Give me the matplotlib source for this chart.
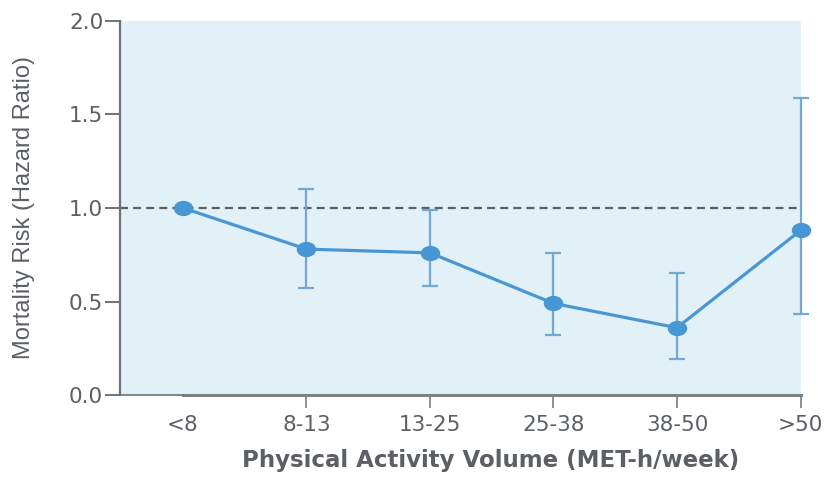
import numpy as np
import matplotlib
matplotlib.use("Agg")
import matplotlib.pyplot as plt
from matplotlib.path import Path

# Hazard ratios by weekly activity volume, with 95% CI
categories = ["<8", "8-13", "13-25", "25-38", "38-50", ">50"]
hazard = [1.00, 0.78, 0.76, 0.49, 0.36, 0.88]
ci_low = [1.00, 0.57, 0.585, 0.32, 0.195, 0.435]
ci_high = [1.00, 1.10, 0.99, 0.76, 0.655, 1.59]
yticks = [0.0, 0.5, 1.0, 1.5, 2.0]

plt.rcParams["font.family"] = ["DejaVu Sans"]

grey = "#5c6064"
axis_grey = "#6e7377"
blue = "#4897d4"
err_blue = "#72a8d3"

# slightly wide oval marker
circ = Path.unit_circle()
oval = Path(circ.vertices * np.array([1.3, 1.0]), circ.codes)

fig = plt.figure(figsize=(8.27, 4.83), dpi=100)
ax = fig.add_axes([0.145, 0.182, 0.823, 0.775])
ax.set_facecolor("#e2f1f8")

x = np.arange(len(categories))
hz = np.array(hazard)
lo = hz - np.array(ci_low)
hi = np.array(ci_high) - hz

# reference line at HR = 1
ax.axhline(1.0, color=grey, lw=1.6, ls=(0, (3.6, 2.3)), zorder=1)

# confidence intervals (reference group has none)
ax.errorbar(x[1:], hz[1:], yerr=[lo[1:], hi[1:]], fmt="none",
            ecolor=err_blue, elinewidth=1.6, capsize=6, capthick=1.6,
            zorder=2, clip_on=False)
ax.plot(x, hz, color=blue, lw=2.3, marker=oval, ms=13, zorder=3, clip_on=False)

ax.set_xlim(-0.51, 5.0)
ax.set_ylim(0, 2.0)
ax.set_yticks(yticks)
ax.set_yticklabels([f"{v:.1f}" for v in yticks])
ax.set_xticks(x)
ax.set_xticklabels(categories)

for side in ["top", "right"]:
    ax.spines[side].set_visible(False)
ax.spines["left"].set_color(axis_grey)
ax.spines["left"].set_linewidth(1.6)
ax.spines["bottom"].set_color("#7d8287")
ax.spines["bottom"].set_linewidth(2.2)
ax.spines["bottom"].set_bounds(0, 5)
# thin stub of the x axis left of the first category
ax.plot([-0.51, 0], [0, 0], color=axis_grey, lw=1.2, clip_on=False, zorder=4)

ax.tick_params(axis="y", direction="out", length=11, width=1.4, color=axis_grey,
               labelcolor=grey, labelsize=15.5, pad=1)
ax.tick_params(axis="x", direction="out", length=9.5, width=1.1, color=axis_grey,
               labelcolor=grey, labelsize=15.5, pad=5)
ax.xaxis.get_major_ticks()[0].tick1line.set_visible(False)

ax.set_ylabel("Mortality Risk (Hazard Ratio)", fontsize=17, color=grey,
              family="Liberation Sans")
ax.yaxis.set_label_coords(-0.125, 0.5)
ax.set_xlabel("Physical Activity Volume (MET-h/week)", fontsize=16.5, color=grey,
              fontweight="bold")
ax.xaxis.set_label_coords(0.544, -0.145)

fig.savefig("out.png", dpi=100)
